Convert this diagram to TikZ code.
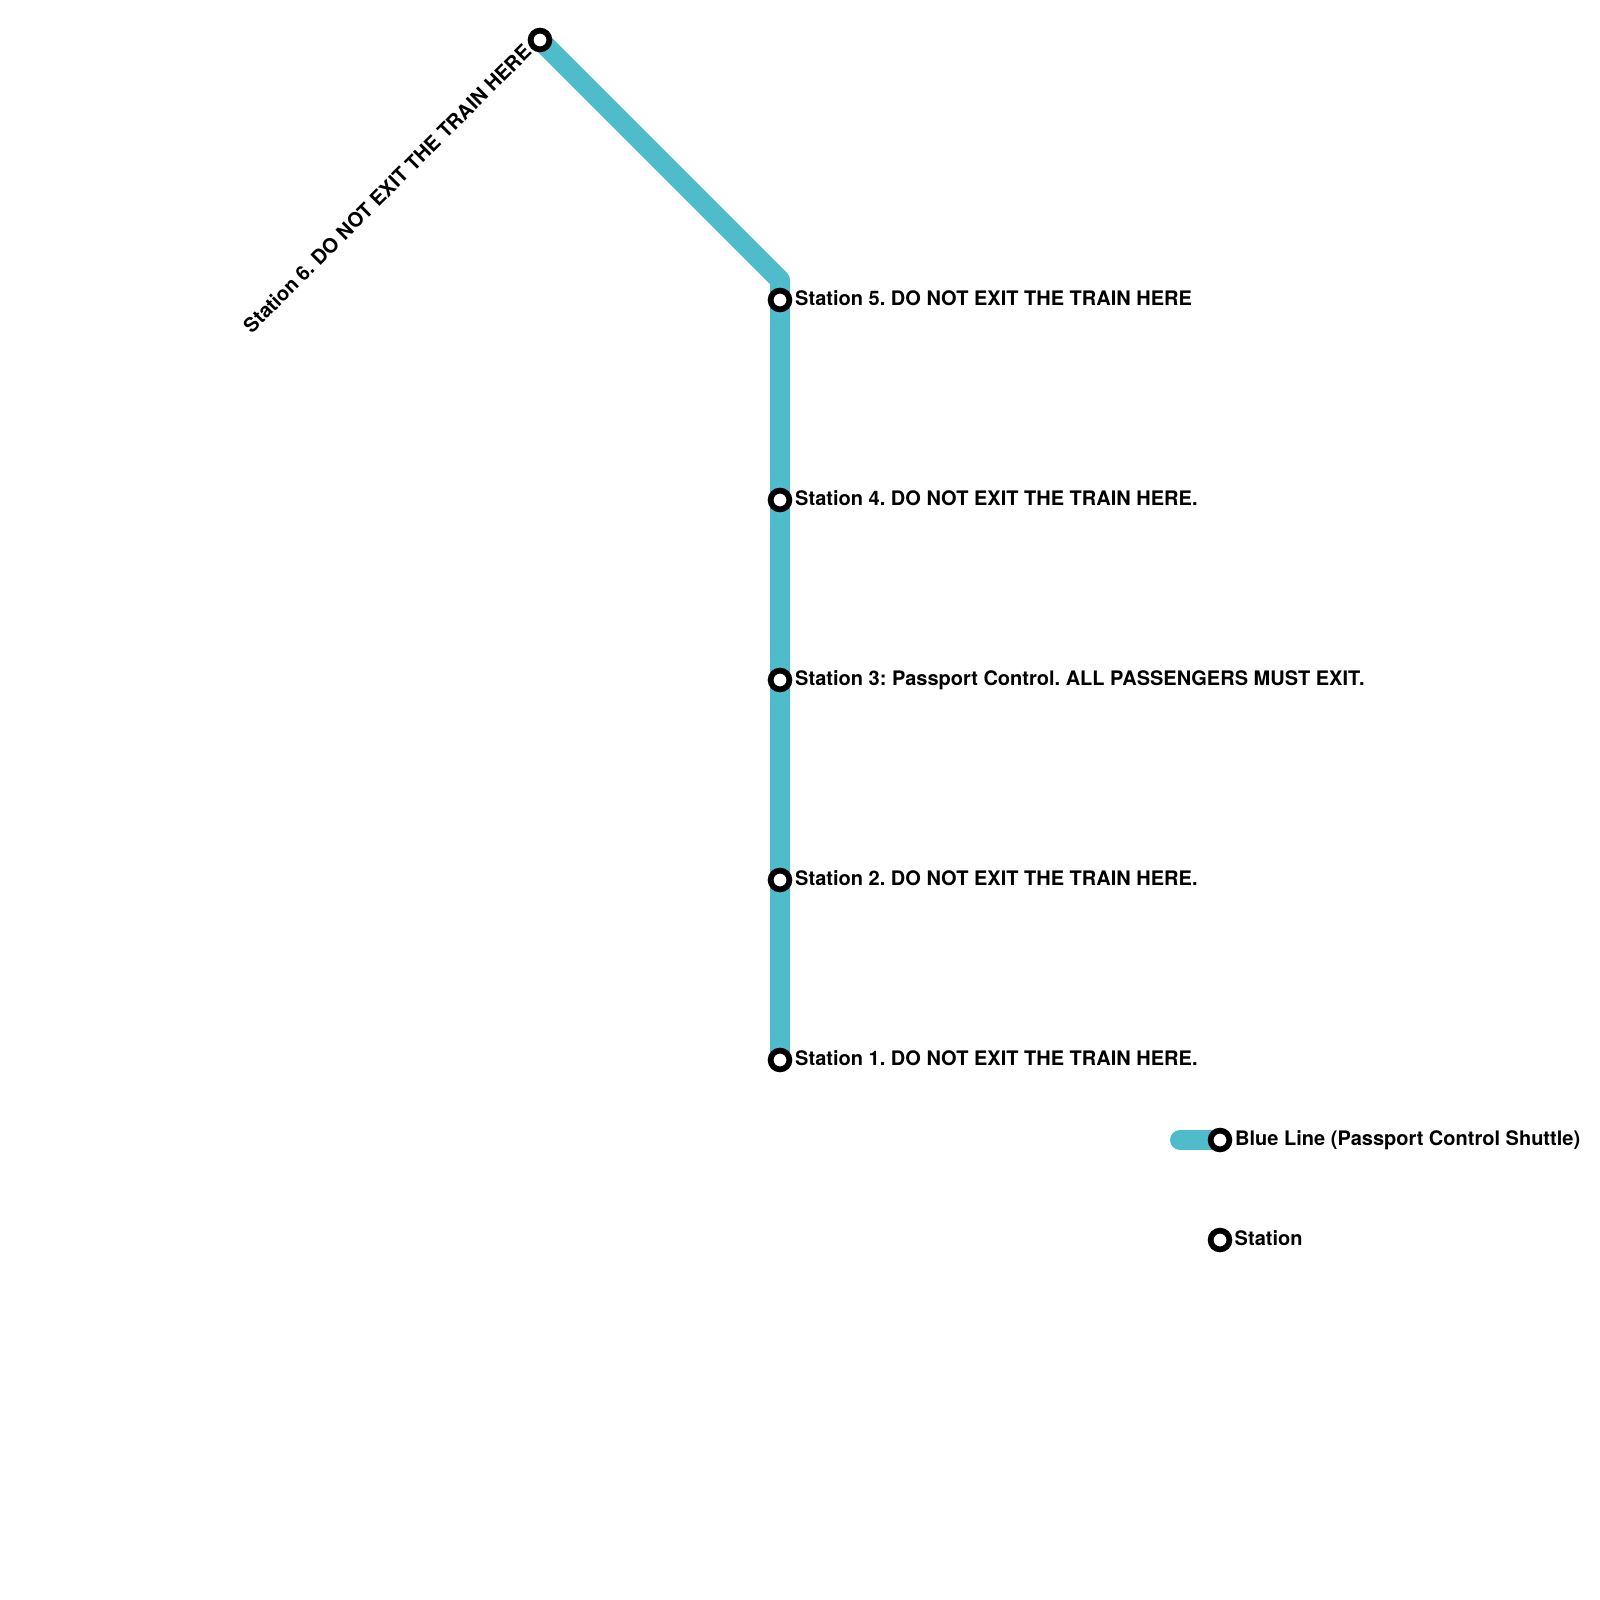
\documentclass[tikz,border=0pt]{standalone}
\usepackage{fontspec}
\setmainfont{TeX Gyre Heros}
\frenchspacing
\definecolor{bluel}{HTML}{4FBCCB}
\tikzset{
  px/.style={x=0.01cm,y=-0.01cm},
  stn/.style={circle,draw=black,fill=white,line width=0.0575cm,inner sep=0pt,minimum size=0.1875cm},
  lineseg/.style={draw=bluel,line width=0.2cm,line join=round},
  legendseg/.style={lineseg,line cap=round},
  lbl/.style={inner sep=0pt,anchor=base west,font=\fontsize{5.69pt}{7pt}\selectfont\bfseries,text=black},
  lblrot/.style={inner sep=0pt,anchor=base east,rotate=45,font=\fontsize{5.69pt}{7pt}\selectfont\bfseries,text=black}
}
\begin{document}
\begin{tikzpicture}[px]
\useasboundingbox (0,0) rectangle (1600,1600);
\coordinate (s6) at (540,40);
\coordinate (bend) at (780,280);
\coordinate (s5) at (780,300);
\coordinate (s4) at (780,500);
\coordinate (s3) at (780,680);
\coordinate (s2) at (780,880);
\coordinate (s1) at (780,1060);
\coordinate (legA) at (1180,1140);
\coordinate (legB) at (1220,1140);
\coordinate (legC) at (1220,1240);
\draw[lineseg] (s6) -- (bend) -- (s1);
\draw[legendseg] (legA) -- (legB);
\foreach \n in {s6,s5,s4,s3,s2,s1,legB,legC}{\node[stn] (n\n) at (\n) {};}
\node[lblrot] (l6) at (533,53) {Station 6. DO NOT EXIT THE TRAIN HERE};
\node[lbl] (l5) at (794.5,305) {Station 5. DO NOT EXIT THE TRAIN HERE};
\node[lbl] (l4) at (794.5,505) {Station 4. DO NOT EXIT THE TRAIN HERE.};
\node[lbl] (l3) at (794.5,685) {Station 3: Passport Control. ALL PASSENGERS MUST EXIT.};
\node[lbl] (l2) at (794.5,885) {Station 2. DO NOT EXIT THE TRAIN HERE.};
\node[lbl] (l1) at (794.5,1065) {Station 1. DO NOT EXIT THE TRAIN HERE.};
\node[lbl] (lb) at (1234.5,1145) {Blue Line (Passport Control Shuttle)};
\node[lbl] (ls) at (1234,1245) {Station};
\end{tikzpicture}
\end{document}
